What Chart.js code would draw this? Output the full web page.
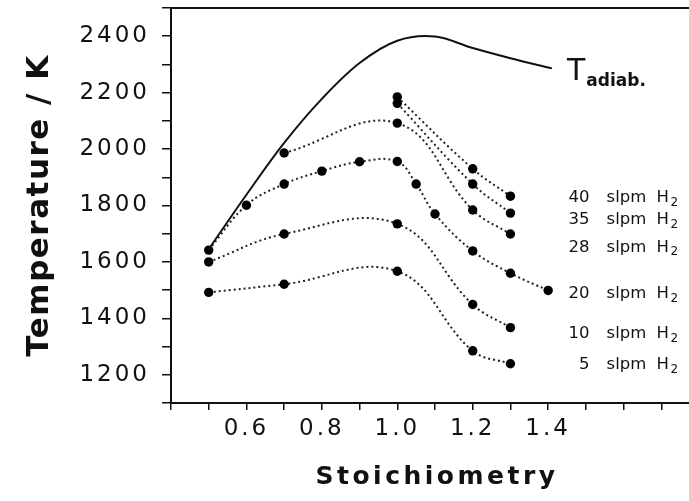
<!DOCTYPE html>
<html>
<head>
<meta charset="utf-8">
<script src="https://cdn.jsdelivr.net/npm/chart.js@4.4.1/dist/chart.umd.min.js"></script>
<style>
  html, body { margin: 0; padding: 0; background: #fff; overflow: hidden; }
  #wrap { width: 705px; height: 501px; }
</style>
</head>
<body>
<div id="wrap"><canvas id="myChart" width="705" height="501"></canvas></div>
<script>
// measured flame temperatures (K) vs stoichiometry, one pair of arrays per H2 flow
const x40 = [1.0, 1.2, 1.3];
const t40 = [2185, 1930, 1833];
const x35 = [1.0, 1.2, 1.3];
const t35 = [2162, 1876, 1773];
const x28 = [0.7, 1.0, 1.2, 1.3];
const t28 = [1986, 2092, 1784, 1699];
const x20 = [0.5, 0.6, 0.7, 0.8, 0.9, 1.0, 1.05, 1.1, 1.2, 1.3, 1.4];
const t20 = [1642, 1801, 1876, 1922, 1955, 1956, 1876, 1770, 1639, 1560, 1499];
const x10 = [0.5, 0.7, 1.0, 1.2, 1.3];
const t10 = [1600, 1699, 1735, 1449, 1367];
const x5 = [0.5, 0.7, 1.0, 1.2, 1.3];
const t5 = [1492, 1521, 1567, 1285, 1239];

// adiabatic flame temperature
const xAdiab = [0.5, 0.6, 0.7, 0.8, 0.9, 1.0, 1.1, 1.2, 1.3, 1.41];
const tAdiab = [1645, 1838, 2022, 2178, 2305, 2384, 2399, 2358, 2322, 2286];

const xTickLabels = ["0.6", "0.8", "1.0", "1.2", "1.4"];
const yTickLabels = [1200, 1400, 1600, 1800, 2000, 2200, 2400];

// series names and where they are written (stoichiometry / temperature)
const flowNames = ["40", "35", "28", "20", "10", "5"];
const flowLabelT = [1827, 1748, 1652, 1488, 1346, 1235];
const flowLabelX = 1.555;
const adiabLabelX = 1.45;
const adiabLabelT = 2245;

function pts(xs, ts) {
  return xs.map(function (x, i) {
    return { x: x, y: ts[i] };
  });
}

function dotted(xs, ts) {
  return {
    data: pts(xs, ts),
    borderColor: "#222",
    borderWidth: 2,
    borderDash: [2, 3],
    pointRadius: 4.7,
    pointBackgroundColor: "#000",
    pointBorderWidth: 0,
    tension: 0.4,
    fill: false,
  };
}

function noPad(s) {
  s.paddingTop = 0;
  s.paddingBottom = 0;
  s.paddingLeft = 0;
  s.paddingRight = 0;
}

const spacing = {
  id: "spacing",
  beforeUpdate(chart) {
    chart.ctx.letterSpacing = "3px";
  },
  beforeDraw(chart) {
    chart.ctx.letterSpacing = "3px";
  },
};

const labels = {
  id: "labels",
  afterDraw(chart) {
    const ctx = chart.ctx;
    const xs = chart.scales.x;
    const ys = chart.scales.y;
    const area = chart.chartArea;
    ctx.save();
    ctx.fillStyle = "#111";

    // y title
    ctx.save();
    ctx.letterSpacing = "1.5px";
    ctx.font = 'bold 31px "DejaVu Sans"';
    ctx.translate(48, (area.top + area.bottom) / 2);
    ctx.rotate(-Math.PI / 2);
    ctx.textAlign = "center";
    ctx.textBaseline = "alphabetic";
    ctx.fillText("Temperature / K", 0, 0);
    ctx.restore();

    // x title
    ctx.letterSpacing = "3.5px";
    ctx.font = 'bold 25px "DejaVu Sans"';
    ctx.textAlign = "center";
    ctx.textBaseline = "alphabetic";
    ctx.fillText("Stoichiometry", (area.left + area.right) / 2 + 2, 484);

    // flow labels
    ctx.letterSpacing = "0px";
    const ax = xs.getPixelForValue(flowLabelX);
    flowNames.forEach(function (name, i) {
      const y = ys.getPixelForValue(flowLabelT[i]);
      ctx.font = '16.5px "DejaVu Sans"';
      ctx.textBaseline = "middle";
      ctx.textAlign = "right";
      ctx.fillText(name, ax - 17, y);
      ctx.textAlign = "left";
      ctx.fillText("slpm", ax, y);
      ctx.fillText("H", ax + 50, y);
      ctx.font = '12px "DejaVu Sans"';
      ctx.fillText("2", ax + 64, y + 5);
    });

    // T adiab. label
    const tx = xs.getPixelForValue(adiabLabelX);
    const ty = ys.getPixelForValue(adiabLabelT);
    ctx.textAlign = "left";
    ctx.textBaseline = "alphabetic";
    ctx.font = '30px "DejaVu Sans"';
    ctx.fillText("T", tx, ty);
    const tw = ctx.measureText("T").width;
    ctx.font = 'bold 17px "DejaVu Sans"';
    ctx.fillText("adiab.", tx + tw + 1, ty + 6);
    ctx.restore();
  },
};

const tickFont = { family: "DejaVu Sans", size: 23 };

new Chart(document.querySelector("#myChart"), {
  type: "line",
  data: {
    datasets: [
      {
        data: pts(xAdiab, tAdiab),
        borderColor: "#111",
        borderWidth: 2,
        pointRadius: 0,
        tension: 0.35,
        fill: false,
      },
      dotted(x40, t40),
      dotted(x35, t35),
      dotted(x28, t28),
      dotted(x20, t20),
      dotted(x10, t10),
      dotted(x5, t5),
    ],
  },
  options: {
    responsive: false,
    animation: false,
    layout: { padding: { top: 8, right: 6, left: 0, bottom: 0 } },
    plugins: {
      legend: { display: false },
      tooltip: { enabled: false },
    },
    scales: {
      x: {
        type: "linear",
        min: 0.4,
        max: 1.8,
        afterFit(s) {
          s.height = 98;
          noPad(s);
        },
        ticks: {
          stepSize: 0.1,
          autoSkip: false,
          maxRotation: 0,
          padding: 5,
          color: "#111",
          font: tickFont,
          callback(v) {
            const s = Number(v).toFixed(1);
            return xTickLabels.includes(s) ? s : "";
          },
        },
        grid: { drawOnChartArea: false, tickLength: 7, color: "#111", lineWidth: 1.5 },
        border: { display: true, color: "#111", width: 2 },
      },
      x2: {
        type: "linear",
        position: "top",
        min: 0.4,
        max: 1.8,
        afterFit(s) {
          s.height = 0;
          noPad(s);
        },
        ticks: { display: false },
        grid: { display: false },
        border: { display: true, color: "#111", width: 2 },
      },
      y: {
        min: 1100,
        max: 2500,
        afterFit(s) {
          s.width = 171;
          noPad(s);
        },
        ticks: {
          stepSize: 100,
          autoSkip: false,
          padding: 12,
          color: "#111",
          font: tickFont,
          callback(v) {
            return yTickLabels.includes(v) ? String(v) : "";
          },
        },
        grid: { drawOnChartArea: false, tickLength: 9, color: "#111", lineWidth: 1.5 },
        border: { display: true, color: "#111", width: 2 },
      },
    },
  },
  plugins: [spacing, labels],
});
</script>
</body>
</html>
